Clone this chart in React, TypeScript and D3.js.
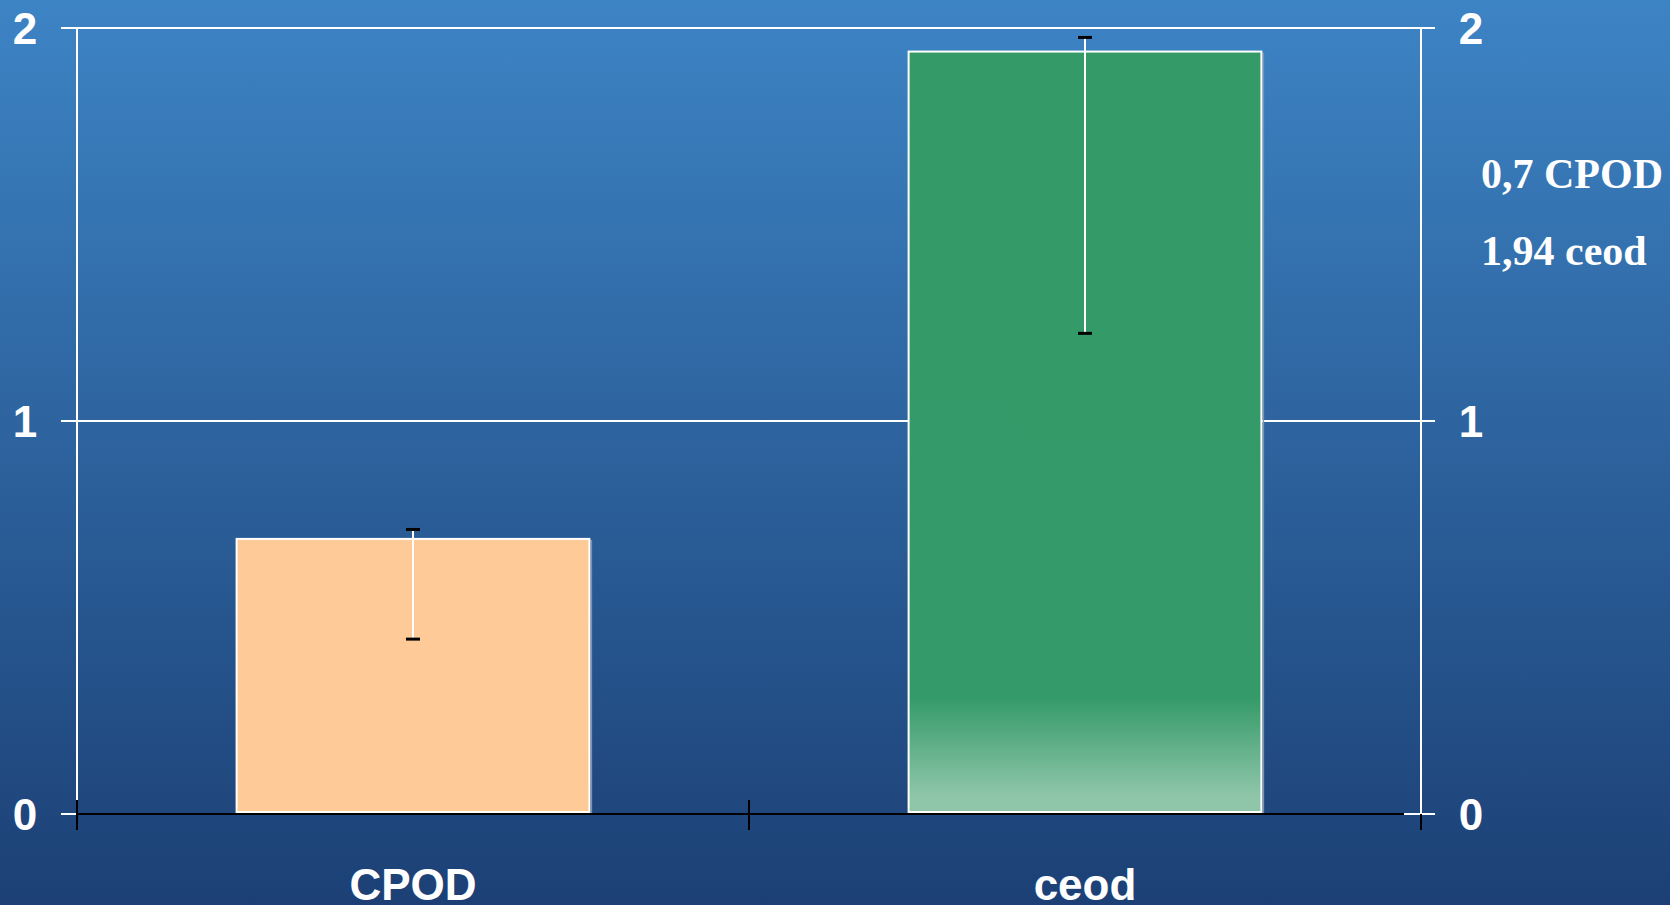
import React from "react";
import * as d3 from "d3";

const categories = ["CPOD", "ceod"];
const means = [0.7, 1.94];
const errHigh = [0.724, 1.976];
const errLow = [0.445, 1.223];
const yTicks = [0, 1, 2];
const annotations = ["0,7 CPOD", "1,94 ceod"];

const W = 1670;
const H = 905;

export default function App() {
  const y = d3.scaleLinear().domain([0, 2]).range([814, 28]);
  const x = d3.scaleBand<string>().domain(categories).range([77, 1421]).padding(0);
  const bw = x.bandwidth() * 0.525;
  const left = 77;
  const right = 1421;
  const sans = "'Liberation Sans', Arial, sans-serif";
  const serif = "'Liberation Serif', 'Times New Roman', serif";

  return (
    <svg
      width={W}
      height={H}
      style={{ position: "fixed", top: 0, left: 0, display: "block" }}
    >
      <defs>
        <linearGradient id="bg" x1="0" y1="0" x2="0" y2="1">
          <stop offset="0" stopColor="#3d84c5" />
          <stop offset="1" stopColor="#1c4075" />
        </linearGradient>
        <linearGradient id="green" x1="0" y1="0" x2="0" y2="1">
          <stop offset="0" stopColor="#349a68" />
          <stop offset="0.85" stopColor="#359a69" />
          <stop offset="0.98" stopColor="#8fc6aa" />
          <stop offset="1" stopColor="#8fc6aa" />
        </linearGradient>
      </defs>
      <rect x={0} y={0} width={W} height={H} fill="url(#bg)" />

      {/* gridlines */}
      {yTicks.map((t) => (
        <line key={"g" + t} x1={61} x2={1435} y1={y(t)} y2={y(t)} stroke="#fff" strokeWidth={2} />
      ))}
      {/* y axes */}
      <line x1={left} x2={left} y1={y(2)} y2={y(0)} stroke="#fff" strokeWidth={2} />
      <line x1={right} x2={right} y1={y(2)} y2={y(0)} stroke="#fff" strokeWidth={2} />

      {/* bars */}
      {categories.map((c, i) => {
        const cx = (x(c) as number) + x.bandwidth() / 2;
        const top = y(means[i]);
        const bottom = y(0) - 2;
        return (
          <g key={c}>
            <rect
              x={cx - bw / 2 + 2}
              y={top + 2}
              width={bw}
              height={bottom - top}
              fill="none"
              stroke="#7f93b0"
              strokeWidth={1.5}
            />
            <rect
              x={cx - bw / 2}
              y={top}
              width={bw}
              height={bottom - top}
              fill={i === 0 ? "#fecb98" : "url(#green)"}
              stroke="#fff"
              strokeWidth={2}
            />
          </g>
        );
      })}

      {/* error bars */}
      {categories.map((c, i) => {
        const cx = (x(c) as number) + x.bandwidth() / 2;
        return (
          <g key={"e" + c}>
            <line x1={cx} x2={cx} y1={y(errHigh[i])} y2={y(errLow[i])} stroke="#fff" strokeWidth={2} />
            <line x1={cx - 7} x2={cx + 7} y1={y(errHigh[i])} y2={y(errHigh[i])} stroke="#000" strokeWidth={3} />
            <line x1={cx - 7} x2={cx + 7} y1={y(errLow[i])} y2={y(errLow[i])} stroke="#000" strokeWidth={3} />
          </g>
        );
      })}

      {/* x axis */}
      <line x1={left} x2={right - 17} y1={y(0)} y2={y(0)} stroke="#000" strokeWidth={2} />
      {[...categories.map((c) => x(c) as number), right].map((px, i, arr) => (
        <line
          key={"xt" + i}
          x1={px}
          x2={px}
          y1={i === arr.length - 1 ? y(0) : 800}
          y2={830}
          stroke="#000"
          strokeWidth={2}
        />
      ))}

      {/* y tick labels */}
      {yTicks.map((t) => (
        <g key={"yl" + t}>
          <text x={25} y={y(t) + 16} textAnchor="middle" fill="#fff" fontFamily={sans} fontWeight="bold" fontSize={44}>
            {t}
          </text>
          <text x={1471} y={y(t) + 16} textAnchor="middle" fill="#fff" fontFamily={sans} fontWeight="bold" fontSize={44}>
            {t}
          </text>
        </g>
      ))}

      {/* x labels */}
      {categories.map((c) => (
        <text
          key={"xl" + c}
          x={(x(c) as number) + x.bandwidth() / 2}
          y={900}
          textAnchor="middle"
          fill="#fff"
          fontFamily={sans}
          fontWeight="bold"
          fontSize={44}
        >
          {c}
        </text>
      ))}

      {/* annotations */}
      {annotations.map((a, i) => (
        <text key={"a" + i} x={1481} y={188 + i * 77} fill="#fff" fontFamily={serif} fontWeight="bold" fontSize={42}>
          {a}
        </text>
      ))}
    </svg>
  );
}
